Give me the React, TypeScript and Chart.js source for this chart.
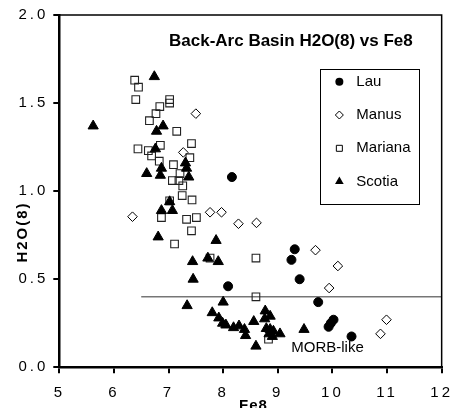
import React, { useEffect, useRef } from 'react';
import { Chart, registerables } from 'chart.js';

Chart.register(...registerables);

const W = 461;
const H = 408;

const TITLE = 'Back-Arc Basin H2O(8) vs Fe8';
const X_TITLE = 'Fe8';
const Y_TITLE = 'H2O(8)';
const MORB_TEXT = 'MORB-like';

const X_MIN = 5;
const X_MAX = 12;
const Y_MIN = 0;
const Y_MAX = 2;

const seriesNames = ['Lau', 'Manus', 'Mariana', 'Scotia'];

const lauFe8 = [8.16, 8.09, 9.31, 9.25, 9.40, 9.74, 10.02, 9.97, 9.93, 10.35];
const lauH2O = [1.08, 0.46, 0.67, 0.61, 0.50, 0.37, 0.27, 0.25, 0.23, 0.175];

const manusFe8 = [7.50, 7.27, 6.34, 7.76, 7.97, 8.28, 8.61, 9.69, 10.10, 9.94, 10.99, 10.88];
const manusH2O = [1.44, 1.22, 0.855, 0.88, 0.88, 0.815, 0.82, 0.665, 0.575, 0.45, 0.27, 0.19];

const marianaFe8 = [6.38, 6.45, 6.40, 7.02, 7.02, 6.84, 6.77, 6.65, 7.15, 6.44, 6.63, 6.85, 6.69, 6.83, 7.42, 7.39, 7.09, 7.21, 7.07, 7.19, 7.26, 7.02, 7.25, 7.43, 6.87, 7.33, 7.51, 7.42, 7.11, 7.76, 8.60, 8.60, 8.83];
const marianaH2O = [1.63, 1.59, 1.52, 1.52, 1.50, 1.48, 1.44, 1.40, 1.34, 1.24, 1.23, 1.26, 1.20, 1.17, 1.27, 1.19, 1.15, 1.10, 1.06, 1.06, 1.03, 0.945, 0.975, 0.95, 0.85, 0.84, 0.85, 0.775, 0.70, 0.62, 0.62, 0.40, 0.16];

const scotiaFe8 = [5.62, 6.74, 6.78, 6.90, 6.76, 6.87, 6.60, 6.85, 7.31, 7.33, 7.37, 7.02, 6.87, 7.07, 6.81, 7.87, 7.44, 7.72, 7.91, 7.45, 7.34, 8.00, 7.80, 7.92, 7.99, 8.05, 8.19, 8.29, 8.39, 8.41, 8.60, 8.56, 8.77, 8.76, 8.86, 8.79, 8.86, 8.84, 8.92, 9.04, 8.90, 9.48];
const scotiaH2O = [1.37, 1.65, 1.34, 1.37, 1.24, 1.13, 1.10, 1.09, 1.16, 1.13, 1.08, 0.94, 0.89, 0.89, 0.74, 0.72, 0.60, 0.62, 0.60, 0.50, 0.35, 0.37, 0.31, 0.28, 0.25, 0.24, 0.225, 0.235, 0.215, 0.18, 0.12, 0.26, 0.32, 0.275, 0.29, 0.22, 0.215, 0.19, 0.205, 0.19, 0.175, 0.215];

// MORB-like threshold line
const morbLineFe8 = [6.5, 12];
const morbLineH2O = [0.4, 0.4];

// annotation anchors in data units
const titleAt = { x: 9.24, y: 1.852 };
const morbTextAt = { x: 9.91, y: 0.111 };

const FONT = '"Liberation Sans", Arial, Helvetica, sans-serif';

const toPts = (xs: number[], ys: number[]) => xs.map((x, i) => ({ x, y: ys[i] }));

function drawMarker(ctx: CanvasRenderingContext2D, kind: string, x: number, y: number) {
  ctx.save();
  ctx.lineWidth = 1;
  ctx.strokeStyle = '#000';
  ctx.fillStyle = '#000';
  ctx.beginPath();
  if (kind === 'circle') {
    ctx.arc(x, y, 4, 0, Math.PI * 2);
    ctx.fill();
  } else if (kind === 'diamond') {
    const r = 4;
    ctx.moveTo(x, y - r);
    ctx.lineTo(x + r, y);
    ctx.lineTo(x, y + r);
    ctx.lineTo(x - r, y);
    ctx.closePath();
    ctx.stroke();
  } else if (kind === 'square') {
    const s = 3;
    ctx.rect(x - s, y - s, 2 * s, 2 * s);
    ctx.stroke();
  } else {
    const r = 5;
    ctx.moveTo(x, y - r);
    ctx.lineTo(x + r * 0.866, y + r * 0.5);
    ctx.lineTo(x - r * 0.866, y + r * 0.5);
    ctx.closePath();
    ctx.fill();
  }
  ctx.restore();
}

const legendKinds = ['circle', 'diamond', 'square', 'triangle'];

export default function App() {
  const ref = useRef<HTMLCanvasElement>(null);

  useEffect(() => {
    const canvas = ref.current;
    if (!canvas) return;

    const overlay = {
      id: 'overlay',
      beforeDraw(chart: any) {
        chart.ctx.letterSpacing = '3px';
      },
      afterDraw(chart: any) {
        const ctx: CanvasRenderingContext2D = chart.ctx;
        const { left, right, top, bottom } = chart.chartArea;
        const xs = chart.scales.x;
        const ys = chart.scales.y;
        ctx.save();
        (ctx as any).letterSpacing = '0px';

        // top and right frame
        ctx.strokeStyle = '#000';
        ctx.lineWidth = 1.5;
        ctx.beginPath();
        ctx.moveTo(left, top);
        ctx.lineTo(right, top);
        ctx.lineTo(right, bottom);
        ctx.stroke();

        ctx.fillStyle = '#000';
        // title
        ctx.font = `bold 17px ${FONT}`;
        ctx.textAlign = 'center';
        ctx.textBaseline = 'middle';
        ctx.fillText(TITLE, xs.getPixelForValue(titleAt.x), ys.getPixelForValue(titleAt.y));

        // MORB-like
        ctx.font = `15px ${FONT}`;
        ctx.fillText(MORB_TEXT, xs.getPixelForValue(morbTextAt.x), ys.getPixelForValue(morbTextAt.y));

        // legend
        const bx = right - 121.3;
        const by = top + 54;
        const bw = 99;
        const bh = 135;
        ctx.lineWidth = 1;
        ctx.strokeStyle = '#000';
        ctx.strokeRect(Math.round(bx) + 0.5, Math.round(by) + 0.5, bw, bh);
        ctx.font = `15px ${FONT}`;
        ctx.textAlign = 'left';
        ctx.textBaseline = 'middle';
        seriesNames.forEach((name, i) => {
          const cy = by + 12.7 + i * 33.3;
          drawMarker(ctx, legendKinds[i], bx + 19, cy);
          ctx.fillText(name, bx + 36, cy);
        });

        // axis titles
        ctx.font = `bold 15px ${FONT}`;
        ctx.textAlign = 'center';
        ctx.textBaseline = 'alphabetic';
        (ctx as any).letterSpacing = '1px';
        ctx.fillText(X_TITLE, (left + right) / 2 + 3, 410);

        ctx.save();
        (ctx as any).letterSpacing = '2px';
        ctx.translate(27, 232);
        ctx.rotate(-Math.PI / 2);
        ctx.textBaseline = 'alphabetic';
        ctx.fillText(Y_TITLE, 0, 0);
        ctx.restore();

        ctx.restore();
      },
    };

    const tickFont = { family: FONT, size: 15 };

    const chart = new Chart(canvas, {
      type: 'scatter',
      data: {
        datasets: [
          {
            label: seriesNames[0],
            data: toPts(lauFe8, lauH2O),
            pointStyle: 'circle',
            pointRadius: 4.5,
            backgroundColor: '#000',
            borderColor: '#000',
            borderWidth: 1,
            order: 4,
          },
          {
            label: seriesNames[1],
            data: toPts(manusFe8, manusH2O),
            pointStyle: 'rectRot',
            pointRadius: 4.8,
            backgroundColor: 'rgba(255,255,255,0)',
            borderColor: '#000',
            borderWidth: 1,
            order: 3,
          },
          {
            label: seriesNames[2],
            data: toPts(marianaFe8, marianaH2O),
            pointStyle: 'rect',
            pointRadius: 5.4,
            backgroundColor: 'rgba(255,255,255,0)',
            borderColor: '#222',
            borderWidth: 1.1,
            order: 2,
          },
          {
            label: seriesNames[3],
            data: toPts(scotiaFe8, scotiaH2O),
            pointStyle: 'triangle',
            pointRadius: 5.9,
            backgroundColor: '#000',
            borderColor: '#000',
            borderWidth: 1,
            order: 1,
          },
          {
            label: 'MORB threshold',
            data: toPts(morbLineFe8, morbLineH2O),
            showLine: true,
            pointRadius: 0,
            borderColor: '#333',
            borderWidth: 1,
            fill: false,
            order: 5,
          } as any,
        ],
      },
      options: {
        responsive: false,
        devicePixelRatio: 1,
        animation: false,
        events: [],
        layout: { padding: { left: 0, top: 15, right: 18.7, bottom: 0 } },
        plugins: {
          legend: { display: false },
          tooltip: { enabled: false },
          title: { display: false },
        },
        scales: {
          x: {
            type: 'linear',
            position: 'bottom',
            min: X_MIN,
            max: X_MAX,
            afterFit: (s: any) => {
              s.height = 40.7;
            },
            ticks: { stepSize: 1, color: '#000', font: tickFont, padding: 11, maxRotation: 0, autoSkip: false },
            grid: { display: true, drawOnChartArea: false, drawTicks: true, tickLength: 6, color: '#000', lineWidth: 2 },
            border: { display: true, color: '#000', width: 2.5 },
          },
          y: {
            type: 'linear',
            position: 'left',
            min: Y_MIN,
            max: Y_MAX,
            afterFit: (s: any) => {
              s.width = 59.3;
            },
            ticks: {
              stepSize: 0.5,
              color: '#000',
              font: tickFont,
              padding: 5,
              callback: (v: any) => Number(v).toFixed(1),
            },
            grid: { display: true, drawOnChartArea: false, drawTicks: true, tickLength: 6, color: '#000', lineWidth: 2 },
            border: { display: true, color: '#000', width: 2.5 },
          },
        },
      },
      plugins: [overlay],
    } as any);

    return () => chart.destroy();
  }, []);

  return (
    <div style={{ position: 'fixed', left: 0, top: 0, width: W, height: H, background: '#fff' }}>
      <canvas ref={ref} width={W} height={H} style={{ width: W, height: H, display: 'block' }} />
    </div>
  );
}
